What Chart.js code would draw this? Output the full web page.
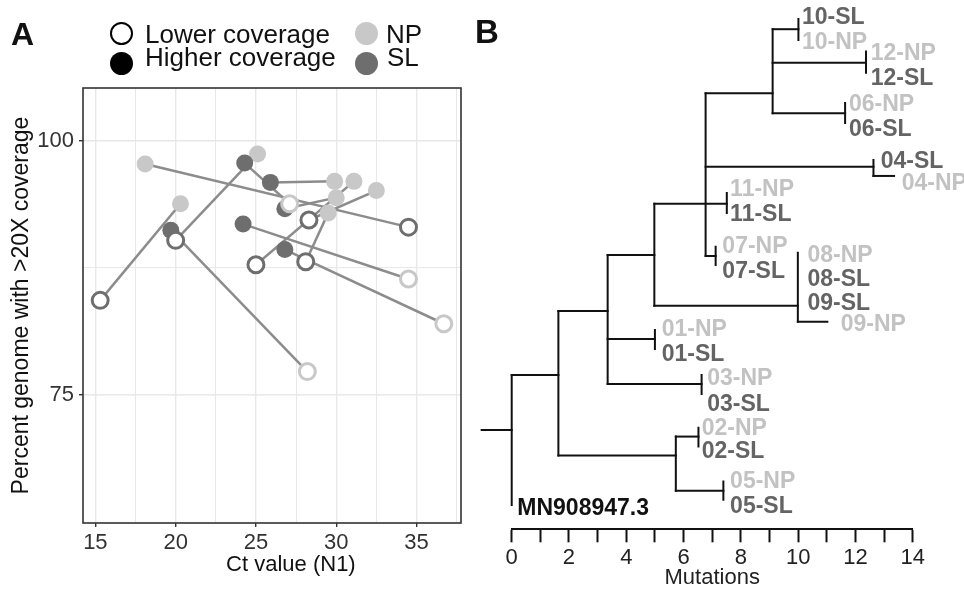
<!DOCTYPE html>
<html>
<head>
<meta charset="utf-8">
<script src="https://cdn.jsdelivr.net/npm/chart.js@4.4.1/dist/chart.umd.min.js"></script>
<style>
html,body{margin:0;padding:0;background:#fff;}
#wrap{position:relative;width:964px;height:589px;overflow:hidden;background:#fff;font-family:"Liberation Sans",Arial,sans-serif;}
canvas{position:absolute;top:0;}
.t{position:absolute;line-height:1;white-space:nowrap;color:#111;}
.dot{position:absolute;border-radius:50%;box-sizing:border-box;}
</style>
</head>
<body>
<div id="wrap">
  <canvas id="cA" width="472" height="589" style="left:0"></canvas>
  <canvas id="cB" width="492" height="589" style="left:472px"></canvas>

  <div class="t" style="left:11px;top:17.5px;font-size:32px;font-weight:bold;">A</div>
  <div class="t" style="left:475px;top:15px;font-size:33px;font-weight:bold;">B</div>

  <div class="dot" style="left:110px;top:21.7px;width:23.3px;height:23.3px;border:2.5px solid #000;background:#fff;"></div>
  <div class="t" style="left:145px;top:21.2px;font-size:26px;">Lower coverage</div>
  <div class="dot" style="left:110px;top:51.7px;width:23.3px;height:23.3px;background:#000;"></div>
  <div class="t" style="left:145px;top:44px;font-size:26px;">Higher coverage</div>
  <div class="dot" style="left:355px;top:21.7px;width:23.3px;height:23.3px;background:#c8c8c8;"></div>
  <div class="t" style="left:386px;top:21.2px;font-size:26px;">NP</div>
  <div class="dot" style="left:355px;top:51.7px;width:23.3px;height:23.3px;background:#6e6e6e;"></div>
  <div class="t" style="left:387px;top:44px;font-size:26px;">SL</div>
</div>

<script>
// ================= Panel A data (12 paired samples) =================
const npCt     = [18.1, 20.3, 28.2, 25.1, 34.5, 36.7, 31.1, 29.5, 29.9, 32.5, 27.1, 30.0];
const npCov    = [97.7, 93.8, 77.3, 98.7, 86.4, 82.0, 96.0, 92.9, 96.0, 95.1, 93.8, 94.4];
const npHigher = [true, true, false, true, false, false, true, true, true, true, false, true];
const slCt     = [34.5, 15.3, 19.7, 20.0, 24.2, 26.8, 25.0, 28.1, 25.9, 28.3, 24.3, 26.8];
const slCov    = [91.5, 84.3, 91.2, 90.2, 91.8, 89.3, 87.8, 88.1, 95.9, 92.2, 97.8, 93.3];
const slHigher = [false, false, true, false, true, true, false, false, true, false, true, true];
const ctTicks  = [15, 20, 25, 30, 35];
const covTicks = [75, 100];

// ================= Panel B data (phylogenetic tree) =================
// horizontal branches: from / to (mutations), at row
const branchFrom = [-1.05, 0, 1.63, 1.63, 3.35, 3.35, 3.35, 4.98, 4.98, 9.99, 6.77, 6.77, 12.63, 6.77, 9.11, 9.11, 9.11, 5.73, 5.73];
const branchTo   = [0, 1.63, 3.35, 5.73, 4.98, 5.00, 6.63, 7.51, 9.99, 11.02, 9.11, 12.63, 13.35, 7.12, 10.01, 12.37, 11.64, 6.52, 7.39];
const branchRow  = [16.92, 14.66, 12.03, 17.97, 9.73, 13.18, 15.03, 7.62, 11.81, 12.47, 3.08, 6.10, 6.48, 9.77, 0.45, 1.83, 3.90, 17.19, 19.42];
// vertical connectors: at mutations, from row / to row
const vertX      = [0, 1.63, 3.35, 4.98, 6.77, 9.11, 9.99, 5.73, 10.01, 12.37, 11.64, 12.63, 7.51, 7.12, 5.00, 6.63, 6.52, 7.39];
const vertTop    = [14.66, 12.03, 9.73, 7.62, 3.08, 0.45, 9.64, 17.19, 0.03, 1.37, 3.48, 5.82, 7.18, 9.39, 12.81, 14.66, 16.83, 19.04];
const vertBottom = [20.00, 17.97, 15.03, 11.81, 9.77, 3.90, 12.47, 19.42, 0.89, 2.24, 4.30, 6.48, 8.00, 10.14, 13.59, 15.44, 17.60, 19.79];
// tip labels
const tipLabels = ['10-SL','10-NP','12-NP','12-SL','06-NP','06-SL','04-SL','04-NP','11-NP','11-SL','07-NP','07-SL',
                   '08-NP','08-SL','09-SL','09-NP','01-NP','01-SL','03-NP','03-SL','02-NP','02-SL','05-NP','05-SL','MN908947.3'];
const tipX   = [10.17,10.17,12.57,12.57,11.81,11.81,12.92,13.65,7.66,7.66,7.39,7.39,
                10.36,10.36,10.36,11.52,5.27,5.27,6.86,6.86,6.67,6.67,7.66,7.66,0.23];
const tipRow = [-0.09,0.91,1.37,2.40,3.48,4.51,5.82,6.72,6.97,8.00,9.32,10.34,
                9.66,10.68,11.65,12.53,12.74,13.74,14.73,15.80,16.78,17.74,18.97,20.00,20.07];
const tipGroup = ['SL','NP','NP','SL','NP','SL','SL','NP','NP','SL','NP','SL',
                  'NP','SL','SL','NP','NP','SL','NP','SL','NP','SL','NP','SL','REF'];
const mutTicks = [0, 2, 4, 6, 8, 10, 12, 14];

// ================= styling =================
const FONT = '"Liberation Sans", Arial, Helvetica, sans-serif';
Chart.defaults.font.family = FONT;
const NP_COL = '#c8c8c8', SL_COL = '#6e6e6e', LINE_COL = '#8c8c8c';
const groupColor = {NP: '#c2c2c2', SL: '#646464', REF: '#111111'};

// ================= Panel A =================
const ctGrid = [];
ctTicks.forEach(t => { ctGrid.push(t, t + 2.5); });
const covGrid = [];
covTicks.forEach(t => { covGrid.push(t, t + 12.5); });
const A_MIN_X = 14.23, A_MAX_X = 37.77, A_MIN_Y = 62.41, A_MAX_Y = 105.18;

const lineSets = npCt.map((_, i) => ({
  showLine: true,
  data: [{x: npCt[i], y: npCov[i]}, {x: slCt[i], y: slCov[i]}],
  borderColor: LINE_COL, borderWidth: 2.5, pointRadius: 0, order: 10
}));

function pts(ctArr, covArr, sel) {
  const out = [];
  ctArr.forEach((c, i) => { if (sel(i)) out.push({x: c, y: covArr[i]}); });
  return out;
}
const pointSets = [
  {data: pts(npCt, npCov, i => npHigher[i]), pointRadius: 8.5, pointBackgroundColor: NP_COL, pointBorderColor: NP_COL, pointBorderWidth: 0, showLine: false, order: 4},
  {data: pts(slCt, slCov, i => slHigher[i]), pointRadius: 8.5, pointBackgroundColor: SL_COL, pointBorderColor: SL_COL, pointBorderWidth: 0, showLine: false, order: 3},
  {data: pts(slCt, slCov, i => !slHigher[i]), pointRadius: 8, pointBackgroundColor: '#ffffff', pointBorderColor: SL_COL, pointBorderWidth: 3, showLine: false, order: 2},
  {data: pts(npCt, npCov, i => !npHigher[i]), pointRadius: 8, pointBackgroundColor: '#ffffff', pointBorderColor: NP_COL, pointBorderWidth: 3, showLine: false, order: 1}
];

const frame = {
  id: 'frame',
  afterDraw(chart) {
    const {ctx, chartArea: a} = chart;
    ctx.save();
    ctx.strokeStyle = '#333';
    ctx.lineWidth = 1.6;
    ctx.strokeRect(a.left, a.top, a.right - a.left, a.bottom - a.top);
    // x-axis title, placed as in the original figure
    ctx.fillStyle = '#111';
    ctx.font = '22px ' + FONT;
    ctx.textAlign = 'center';
    ctx.textBaseline = 'middle';
    ctx.fillText('Ct value (N1)', a.left + (a.right - a.left) * 0.55, a.bottom + 42);
    ctx.restore();
  }
};

const gridColor = c => '#e8e8e8';
new Chart(document.getElementById('cA'), {
  type: 'scatter',
  data: {datasets: [...lineSets, ...pointSets]},
  options: {
    responsive: false, animation: false, events: [],
    layout: {padding: {top: 88, right: 1, left: 0, bottom: 0}},
    plugins: {legend: {display: false}, tooltip: {enabled: false}},
    scales: {
      x: {
        type: 'linear', min: A_MIN_X, max: A_MAX_X,
        afterBuildTicks(s) { s.ticks = ctGrid.filter(v => v <= A_MAX_X).map(v => ({value: v})); },
        afterFit(s) { s.height = 66; },
        border: {display: false},
        grid: {
          color: gridColor,
          lineWidth: c => (c.tick && ctTicks.includes(c.tick.value)) ? 1.4 : 1,
          drawTicks: true, tickLength: 4, tickWidth: 1.4,
          tickColor: c => (c.tick && ctTicks.includes(c.tick.value)) ? '#333' : 'rgba(0,0,0,0)'
        },
        ticks: {
          font: {size: 22}, color: '#333', padding: 3, autoSkip: false, maxRotation: 0,
          callback: v => ctTicks.includes(v) ? String(v) : ''
        },
        title: {display: false}
      },
      y: {
        type: 'linear', min: A_MIN_Y, max: A_MAX_Y,
        afterBuildTicks(s) { s.ticks = covGrid.filter(v => v <= A_MAX_Y - 1 && v >= A_MIN_Y + 1).map(v => ({value: v})); },
        afterFit(s) { s.width = 83; },
        border: {display: false},
        grid: {
          color: gridColor,
          lineWidth: c => (c.tick && covTicks.includes(c.tick.value)) ? 1.4 : 1,
          drawTicks: true, tickLength: 4, tickWidth: 1.4,
          tickColor: c => (c.tick && covTicks.includes(c.tick.value)) ? '#333' : 'rgba(0,0,0,0)'
        },
        ticks: {
          font: {size: 22}, color: '#333', padding: 5, autoSkip: false,
          callback: v => covTicks.includes(v) ? String(v) : ''
        },
        title: {display: true, text: 'Percent genome with >20X coverage', font: {size: 23}, color: '#111', padding: {top: 8, bottom: 0}}
      }
    }
  },
  plugins: [frame]
});

// ================= Panel B =================
const treeSets = [];
branchFrom.forEach((x0, i) => treeSets.push({
  data: [{x: x0, y: branchRow[i]}, {x: branchTo[i], y: branchRow[i]}]
}));
vertX.forEach((x, i) => treeSets.push({
  data: [{x: x, y: vertTop[i]}, {x: x, y: vertBottom[i]}]
}));
treeSets.forEach(d => Object.assign(d, {
  showLine: true, borderColor: '#111', borderWidth: 2, pointRadius: 0, clip: false, borderCapStyle: 'square'
}));

const mutGrid = [];
mutTicks.forEach(t => { mutGrid.push(t); if (t + 1 <= 14) mutGrid.push(t + 1); });

const tipText = {
  id: 'tipText',
  afterDatasetsDraw(chart) {
    const {ctx, scales: {x, y}} = chart;
    ctx.save();
    ctx.font = 'bold 23px ' + FONT;
    ctx.textAlign = 'left';
    ctx.textBaseline = 'alphabetic';
    tipLabels.forEach((t, i) => {
      ctx.fillStyle = groupColor[tipGroup[i]];
      ctx.fillText(t, x.getPixelForValue(tipX[i]) - 1, y.getPixelForValue(tipRow[i]) + 8.2);
    });
    ctx.restore();
  }
};

new Chart(document.getElementById('cB'), {
  type: 'scatter',
  data: {datasets: treeSets},
  options: {
    responsive: false, animation: false, events: [],
    layout: {padding: {left: 39.7, right: 51.3, top: 0, bottom: 0}},
    plugins: {legend: {display: false}, tooltip: {enabled: false}},
    scales: {
      x: {
        type: 'linear', min: 0, max: 14,
        afterBuildTicks(s) { s.ticks = mutGrid.map(v => ({value: v})); },
        afterFit(s) { s.height = 59.7; },
        border: {display: true, color: '#111', width: 2},
        grid: {drawOnChartArea: false, drawTicks: true, tickLength: 13, tickColor: '#111', tickWidth: 2},
        ticks: {
          font: {size: 22}, color: '#222', padding: 2, autoSkip: false, maxRotation: 0,
          callback: v => mutTicks.includes(v) ? String(v) : ''
        },
        title: {display: true, text: 'Mutations', font: {size: 22, lineHeight: 1.0}, color: '#222', padding: {top: 0, bottom: 0}}
      },
      y: {type: 'linear', reverse: true, min: -0.75, max: 21, display: false}
    }
  },
  plugins: [tipText]
});
</script>
</body>
</html>
